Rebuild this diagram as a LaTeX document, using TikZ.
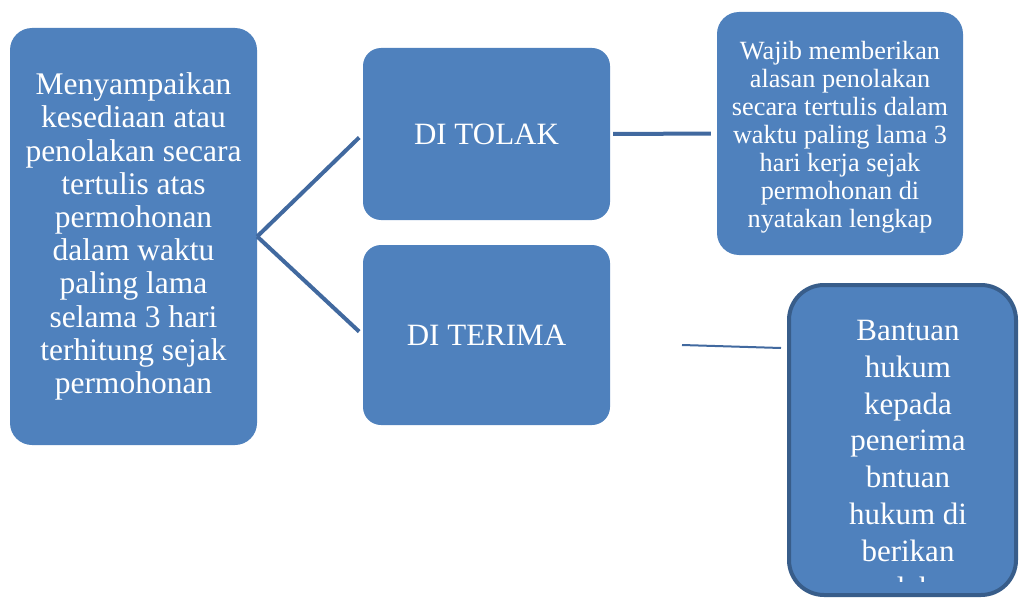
\documentclass[tikz,border=0pt]{standalone}
\usepackage{fontspec}
\setmainfont{Liberation Serif}
\definecolor{boxblue}{HTML}{4F81BD}
\definecolor{lineblue}{HTML}{41699F}
\definecolor{darkrim}{HTML}{385D8A}
\begin{document}
\begin{tikzpicture}[x=1pt,y=1pt,
  bluebox/.style={fill=boxblue, draw=none, text=white, align=center, inner sep=0pt},
  whitetext/.style={text=white, align=center, inner sep=0pt},
  conn/.style={draw=lineblue, line width=4pt}]
\useasboundingbox (0,0) rectangle (1020,-599);
\node[bluebox, rounded corners=22pt, minimum width=247pt, minimum height=417pt,
  font=\fontsize{31.5}{33.2}\selectfont] (L) at (133.5,-236.5)
  {Menyampaikan\\kesediaan atau\\penolakan secara\\tertulis atas\\permohonan\\dalam waktu\\paling lama\\selama 3 hari\\terhitung sejak\\permohonan};
\node[bluebox, rounded corners=18pt, minimum width=247pt, minimum height=172pt,
  font=\fontsize{31}{34}\selectfont] (TOLAK) at (486.5,-134) {DI TOLAK};
\node[bluebox, rounded corners=18pt, minimum width=247pt, minimum height=180pt,
  font=\fontsize{31}{34}\selectfont] (TERIMA) at (486.5,-335) {DI TERIMA};
\node[bluebox, rounded corners=22pt, minimum width=246pt, minimum height=243pt] (TR) at (840,-133.5) {};
\node[whitetext, font=\fontsize{26.3}{28}\selectfont] (TRT) at (840,-137.5)
  {Wajib memberikan\\alasan penolakan\\secara tertulis dalam\\waktu paling lama 3\\hari kerja sejak\\permohonan di\\nyatakan lengkap};
\node[bluebox, draw=darkrim, line width=4pt, rounded corners=35pt, minimum width=227pt, minimum height=310pt] (BR) at (902.5,-440) {};
\begin{scope}
  \clip (790,-290) rectangle (1015,-581);
  \node[whitetext, anchor=north, font=\fontsize{31}{36.8}\selectfont] (BRT) at (908,-320)
    {Bantuan\\hukum\\kepada\\penerima\\bntuan\\hukum di\\berikan\\oleh};
\end{scope}
\draw[conn, shorten >=5pt] (L.east) -- (TOLAK.west);
\draw[conn, shorten >=5pt] (L.east) -- (TERIMA.west);
\draw[conn, shorten <=3pt, shorten >=6pt] (TOLAK.east) -- (TR.west);
\coordinate (b1) at (682,-345);
\coordinate (b2) at (781,-348);
\draw[draw=lineblue, line width=2pt] (b1) -- (b2);
\end{tikzpicture}
\end{document}
